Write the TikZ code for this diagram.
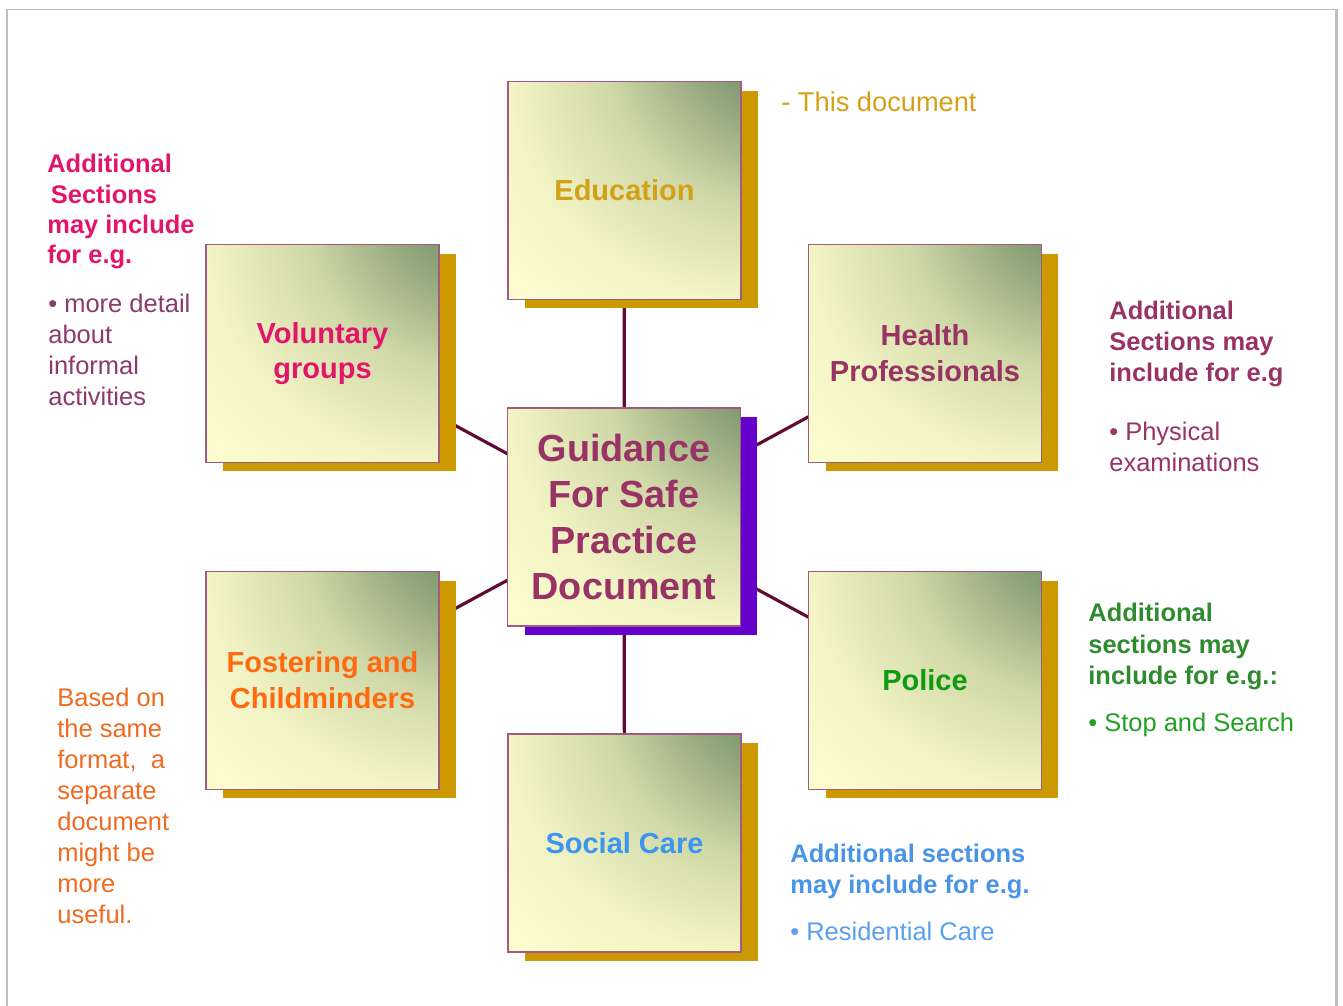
\documentclass[tikz,border=0pt]{standalone}
\usepackage{fontspec}
\setmainfont{Liberation Sans}
\usetikzlibrary{shadows,backgrounds}

\definecolor{glowgreen}{HTML}{4A7C4E}
\definecolor{glowmid}{HTML}{8CA278}
\definecolor{glowpale}{HTML}{D0D8A8}
\definecolor{glowcream}{HTML}{F4F5C6}
\definecolor{glowlight}{HTML}{FFFFD4}
\definecolor{boxrim}{HTML}{A25A7E}
\definecolor{goldshade}{HTML}{CC9900}
\definecolor{violetshade}{HTML}{6600CC}
\definecolor{linkred}{HTML}{600A35}
\definecolor{framegray}{HTML}{C0C0C0}
\definecolor{edutext}{HTML}{D4A017}
\definecolor{voltext}{HTML}{E2156B}
\definecolor{volbody}{HTML}{8C3A6C}
\definecolor{plum}{HTML}{993366}
\definecolor{fostext}{HTML}{FF6A10}
\definecolor{fosbody}{HTML}{F06A20}
\definecolor{poltext}{HTML}{109A10}
\definecolor{polhead}{HTML}{2E8B2E}
\definecolor{polbody}{HTML}{22A022}
\definecolor{soctext}{HTML}{3C96F0}
\definecolor{sochead}{HTML}{4A94E8}
\definecolor{socbody}{HTML}{5AA0EE}

% green glow in the upper right corner of every box
\pgfdeclareradialshading{cornerglow}{\pgfpoint{50bp}{50bp}}{color(0bp)=(glowgreen); color(10bp)=(glowgreen); color(23bp)=(glowmid); color(36bp)=(glowpale); color(50bp)=(glowcream); color(66bp)=(glowlight); color(100bp)=(glowlight)}

\tikzset{
  topic/.style={draw=boxrim, line width=1.1pt, shade, shading=cornerglow,
    minimum width=4.66cm, minimum height=4.36cm, inner sep=0pt, align=center,
    font=\fontsize{16.5}{20.4}\selectfont\bfseries,
    drop shadow={shadow xshift=0.34cm, shadow yshift=-0.18cm, fill=#1, opacity=1}},
  topic/.default=goldshade,
  note/.style={anchor=north west, align=left, inner sep=0pt,
    font=\fontsize{14.5}{17.6}\selectfont},
  link/.style={draw=linkred, line width=1.8pt}
}

\begin{document}
\begin{tikzpicture}[x=0.02cm,y=-0.02cm]
  \useasboundingbox (0,0) rectangle (1343,1006);
  \draw[framegray, line width=0.6pt] (7,1006) -- (7,9.5) -- (1335,9.5);
  \draw[framegray, line width=1.7pt] (1336.5,9) -- (1336.5,1006);

  % the central document and the six services around it
  \node[topic=violetshade, text=plum, font=\fontsize{21.5}{26}\selectfont\bfseries] (main) at (624,517)
    {Guidance\\For Safe\\Practice\\Document};
  \foreach \nm/\px/\py/\clr/\txt in {edu/624.5/190.5/edutext/Education,
      vol/322.5/353.5/voltext/{Voluntary\\groups},
      hea/925/353.5/plum/{Health\\Professionals},
      fos/322.5/680.5/fostext/{Fostering and\\Childminders},
      pol/925/680.5/poltext/Police,
      soc/624.5/843/soctext/Social Care}
    \node[topic, text=\clr] (\nm) at (\px,\py) {\txt};

  \begin{scope}[on background layer]
    \foreach \nm in {edu,vol,hea,fos,pol,soc}
      \draw[link] (main.center) -- (\nm.center);
  \end{scope}

  % side notes
  \node[note, text=edutext, font=\fontsize{15.5}{18}\selectfont] (edunote) at (781,91) {- This document};
  \node[note, text=voltext, font=\fontsize{14.5}{17.2}\selectfont\bfseries] (volhead) at (47,154)
    {Additional\\\hspace*{2pt}Sections\\may include\\for e.g.};
  \node[note, text=volbody] (volbody) at (48,294) {• more detail\\about\\informal\\activities};
  \node[note, text=plum, font=\fontsize{14.5}{17.6}\selectfont\bfseries] (heahead) at (1109,301)
    {Additional\\Sections may\\include for e.g};
  \node[note, text=plum] (heabody) at (1109,422) {• Physical\\examinations};
  \node[note, text=fosbody] (fosnote) at (57,688)
    {Based on\\the same\\format,~ a\\separate\\document\\might be\\more\\useful.};
  \node[note, text=polhead, font=\fontsize{14.5}{17.8}\selectfont\bfseries] (polhead) at (1088,603)
    {Additional\\sections may\\include for e.g.:};
  \node[note, text=polbody] (polbody) at (1088,713) {• Stop and Search};
  \node[note, text=sochead, font=\fontsize{14.5}{17.2}\selectfont\bfseries] (sochead) at (790,844)
    {Additional sections\\may include for e.g.};
  \node[note, text=socbody] (socbody) at (790,922) {• Residential Care};
\end{tikzpicture}
\end{document}
